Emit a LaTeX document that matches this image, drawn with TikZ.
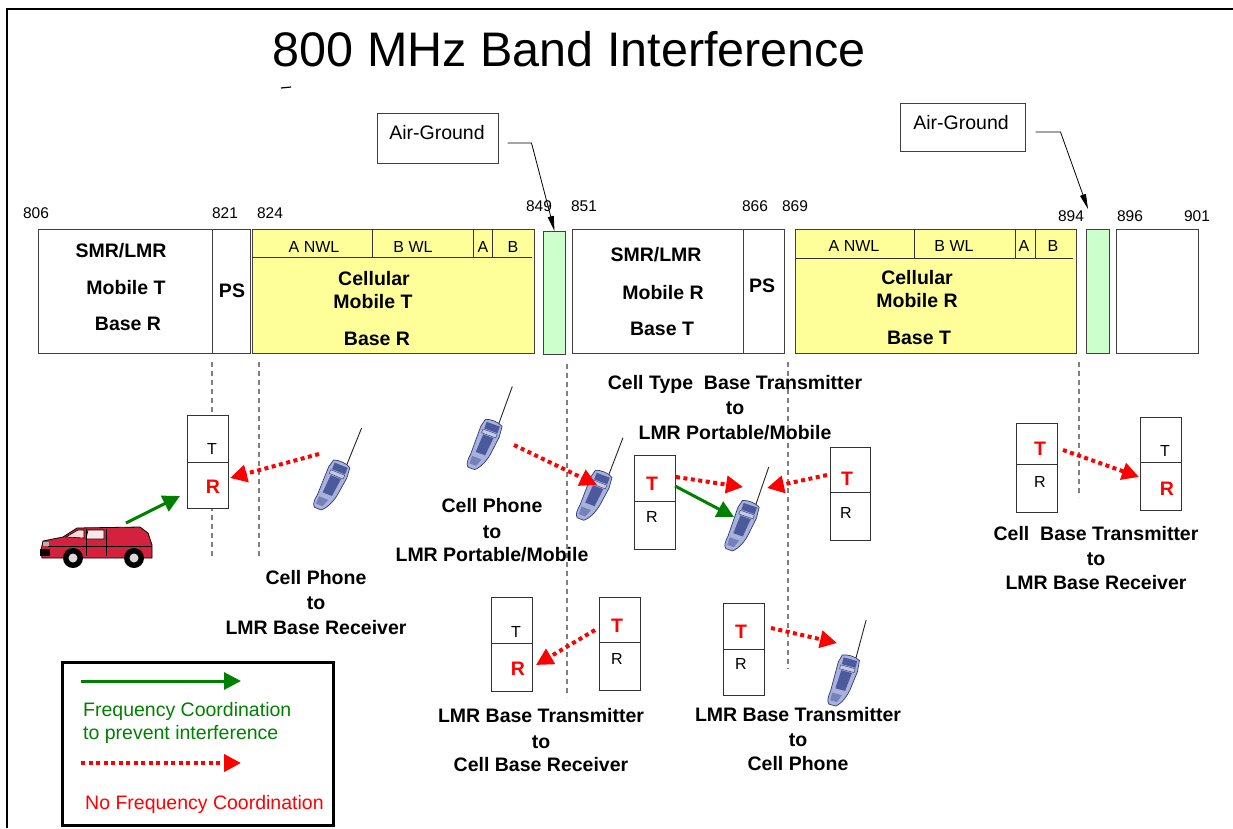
\documentclass[tikz,border=0pt]{standalone}
\usepackage{fontspec}
\setmainfont{Liberation Sans}
\usetikzlibrary{arrows.meta,calc}
\definecolor{bandyellow}{HTML}{FFFF99}
\definecolor{bandgreen}{HTML}{CCFFCC}
\definecolor{fcgreen}{HTML}{008000}
\definecolor{vanred}{HTML}{D4213D}
\definecolor{phonelight}{HTML}{A9B2DC}
\definecolor{phonedark}{HTML}{4B5A9C}
\definecolor{phoneline}{HTML}{2E3A70}
\tikzset{
  band/.style={draw=black!75, line width=1pt, inner sep=0, anchor=north west},
  cell/.style={draw=black!80, fill=white, line width=1pt, inner sep=0, minimum width=41pt, minimum height=46pt},
  agbox/.style={draw=black!75, line width=1pt, inner sep=0},
  tbig/.style={font=\bfseries\fontsize{19.5}{20}\selectfont, inner sep=0, text height=14pt, text depth=0pt},
  treg/.style={font=\fontsize{19.5}{20}\selectfont, inner sep=0, text height=14pt, text depth=0pt},
  tsub/.style={font=\fontsize{16}{16}\selectfont, inner sep=0, text height=11.5pt, text depth=0pt},
  tnum/.style={font=\fontsize{15.5}{16}\selectfont, inner sep=0, text height=11pt, text depth=0pt},
  tred/.style={font=\bfseries\fontsize{19.5}{20}\selectfont, text=red, inner sep=0, text height=14pt, text depth=0pt},
  tblk/.style={font=\fontsize{16}{16}\selectfont, inner sep=0, text height=11.5pt, text depth=0pt},
  guide/.style={draw=black!50, line width=1.5pt, dash pattern=on 5pt off 4pt},
  garrow/.style={draw=fcgreen, line width=3pt, -{Triangle[length=17pt,width=17pt]}, fcgreen},
  rarrow/.style={draw=red, line width=4pt, dash pattern=on 4pt off 3.5pt, -{Triangle[length=17pt,width=17pt]}, red},
  agarrow/.style={draw=black, line width=0.8pt, -{Triangle[length=15pt,width=6pt]}},
}
\newcommand{\myphone}[3]{%
  \begin{scope}[shift={(#1,#2)}, rotate=#3]
    \draw[line width=0.9pt, black!85] (6,1) -- (6,-40);
    \filldraw[fill=phonelight, draw=phoneline, line width=0.7pt]
      (-8,0) .. controls (-3,-2) and (5,-2) .. (10,1) -- (11,12) -- (9,28)
      .. controls (8,38) and (4,47) .. (-1,51) -- (-8,51)
      .. controls (-11,49) and (-11,44) .. (-10,38) -- (-10,8) -- cycle;
    \fill[phonedark] (-6,2) rectangle (8,9);
    \filldraw[fill=phonelight!70!white, draw=phoneline, line width=0.4pt] (-7,10) rectangle (8,14);
    \fill[phonedark] (-5,15) -- (6,15) -- (4,34) -- (-6,34) -- cycle;
    \fill[phonedark!55!phonelight] (-8,39) -- (2,39) -- (-1,47) -- (-8,47) -- cycle;
  \end{scope}}
\begin{document}
\begin{tikzpicture}[x=1pt,y=-1pt]
\useasboundingbox (0,0) rectangle (1233,828);
\fill[white] (0,0) rectangle (1233,828);
% frame
\draw[line width=2.5pt] (7,828) -- (7,9) -- (1233,9);
% title
\node[font=\fontsize{48.5}{50}\selectfont, inner sep=0, text height=34.7pt, text depth=0pt] (title) at (569.5,49) {800 MHz Band Interference};
\draw[line width=1.2pt] (281,88) -- (291,87);

% ---------- band plan ----------
\node[band, minimum width=212pt, minimum height=124pt] (b1) at (38,229) {};
\draw[black!75, line width=1pt] (212,229) -- (212,353);
\node[band, fill=bandyellow, minimum width=282pt, minimum height=124pt] (y1) at (252,229) {};
\draw[black!80, line width=1pt] (252,257) -- (532,257);
\foreach \xx in {372,473,492} \draw[black!80, line width=1pt] (\xx,229) -- (\xx,257);
\node[band, fill=bandgreen, minimum width=22pt, minimum height=123pt] (g1) at (543,231) {};
\node[band, minimum width=212pt, minimum height=124pt] (b2) at (572,229) {};
\draw[black!75, line width=1pt] (743,229) -- (743,353);
\node[band, fill=bandyellow, minimum width=281pt, minimum height=124pt] (y2) at (795,229) {};
\draw[black!80, line width=1pt] (795,258) -- (1073,258);
\foreach \xx in {914,1015,1035} \draw[black!80, line width=1pt] (\xx,229) -- (\xx,258);
\node[band, fill=bandgreen, minimum width=23pt, minimum height=124pt] (g2) at (1086,229) {};
\node[band, minimum width=82pt, minimum height=124pt] (b3) at (1116,229) {};

% frequency numbers
\node[tnum] (f806) at (36,213) {806};
\node[tnum] (f821) at (225,213) {821};
\node[tnum] (f824) at (270,213) {824};
\node[tnum] (f849) at (539,206) {849};
\node[tnum] (f851) at (584,206) {851};
\node[tnum] (f866) at (755,206) {866};
\node[tnum] (f869) at (795,206) {869};
\node[tnum] (f894) at (1071,216) {894};
\node[tnum] (f896) at (1130,216) {896};
\node[tnum] (f901) at (1197,216) {901};

% band labels
\node[tbig] (l1a) at (121,250) {SMR/LMR};
\node[tbig] (l1b) at (126,287) {Mobile T};
\node[tbig] (l1c) at (128,323) {Base R};
\node[tbig] (ps1) at (232,290) {PS};
\node[tsub] (s1a) at (314,247) {A NWL};
\node[tsub] (s1b) at (413,247) {B WL};
\node[tsub] (s1c) at (483,247) {A};
\node[tsub] (s1d) at (513,247) {B};
\node[tbig] (c1a) at (374,278) {Cellular};
\node[tbig] (c1b) at (373,301) {Mobile T};
\node[tbig] (c1c) at (377,338) {Base R};
\node[tbig] (l2a) at (656,254) {SMR/LMR};
\node[tbig] (l2b) at (663,292) {Mobile R};
\node[tbig] (l2c) at (662,328) {Base T};
\node[tbig] (ps2) at (762,285) {PS};
\node[tsub] (s2a) at (854,246) {A NWL};
\node[tsub] (s2b) at (954,246) {B WL};
\node[tsub] (s2c) at (1024,246) {A};
\node[tsub] (s2d) at (1053,246) {B};
\node[tbig] (c2a) at (917,277) {Cellular};
\node[tbig] (c2b) at (917,300) {Mobile R};
\node[tbig] (c2c) at (919,337) {Base T};

% air-ground callouts
\node[agbox, minimum width=121pt, minimum height=50pt] (ag1) at (437.5,138) {};
\node[treg] (ag1t) at (437,132) {Air-Ground};
\node[agbox, minimum width=125pt, minimum height=48pt] (ag2) at (962.5,127) {};
\node[treg] (ag2t) at (961,122) {Air-Ground};
\draw[agarrow] ([xshift=9pt,yshift=-5pt]ag1.east) -- ++(24,0) -- (g1.north);
\coordinate (ag2tip) at (1088,209);
\draw[agarrow] ([xshift=10pt,yshift=-5pt]ag2.east) -- ++(25,0) -- (ag2tip);

% ---------- guide lines ----------
\draw[guide] (212,362) -- (212,558);
\draw[guide] (259,362) -- (259,558);
\draw[guide] (567,364) -- (567,697);
\draw[guide] (788,362) -- (788,669);
\draw[guide] (1079,362) -- (1079,497);

% ---------- T/R boxes ----------
% box 1
\node[cell, minimum height=47pt] (b1t) at (207.5,438.5) {};
\node[cell] (b1r) at (207.5,485) {};
\node[tblk] (b1tt) at (212,449) {T};
\node[tred] (b1rt) at (213,486) {R};
% box 2
\node[cell] (b2t) at (654.5,478) {};
\node[cell, minimum height=48pt] (b2r) at (654.5,525) {};
\node[tred] (b2tt) at (652,483) {T};
\node[tblk] (b2rt) at (652,517) {R};
% box 3
\node[cell, minimum width=40pt, minimum height=45pt] (b3t) at (850,469.5) {};
\node[cell, minimum width=40pt, minimum height=48pt] (b3r) at (850,516) {};
\node[tred] (b3tt) at (847,478) {T};
\node[tblk] (b3rt) at (846,513) {R};
% box 4
\node[cell] (b4t) at (511.5,620) {};
\node[cell, minimum height=48pt] (b4r) at (511.5,667) {};
\node[tblk] (b4tt) at (516,632) {T};
\node[tred] (b4rt) at (518,668) {R};
% box 5
\node[cell, minimum height=45pt] (b5t) at (619.5,619.5) {};
\node[cell, minimum height=48pt] (b5r) at (619.5,666) {};
\node[tred] (b5tt) at (617,625) {T};
\node[tblk] (b5rt) at (617,659) {R};
% box 6
\node[cell] (b6t) at (743.5,626) {};
\node[cell] (b6r) at (743.5,672) {};
\node[tred] (b6tt) at (741,631) {T};
\node[tblk] (b6rt) at (741,664) {R};
% box 7
\node[cell, minimum height=41pt] (b7t) at (1036.5,443.5) {};
\node[cell, minimum height=48pt] (b7r) at (1036.5,488) {};
\node[tred] (b7tt) at (1040,448) {T};
\node[tblk] (b7rt) at (1040,482) {R};
% box 8
\node[cell, minimum height=45pt] (b8t) at (1160.5,439.5) {};
\node[cell, minimum height=48pt] (b8r) at (1160.5,486) {};
\node[tblk] (b8tt) at (1165,451) {T};
\node[tred] (b8rt) at (1167,488) {R};

% ---------- phones ----------
\myphone{341}{463}{-22}
\myphone{493}{422}{-20}
\myphone{603}{473}{-21}
\myphone{750}{503}{-19}
\myphone{850}{657}{-15}

% ---------- van ----------
\begin{scope}
  \filldraw[fill=vanred, draw=black, line width=0.8pt]
    (41,550) -- (43,541) -- (63,537) -- (77,528) -- (140,527) -- (148,533)
    -- (152,545) -- (152,558) -- (42,558) -- cycle;
  \filldraw[fill=red!15, draw=black, line width=0.6pt] (66,537) -- (78,530) -- (84,530) -- (84,538) -- cycle;
  \filldraw[fill=red!10, draw=black, line width=0.6pt] (88,530) -- (104,530) -- (104,539) -- (86,539) -- cycle;
  \draw[black, line width=0.6pt] (86,529) -- (86,556);
  \draw[black, line width=0.6pt] (106,529) -- (106,556);
  \draw[black, line width=0.6pt] (48,546) -- (152,546);
  \fill[black] (40,549) rectangle (50,556);
  \fill[black!30] (43,542) rectangle (49,546);
  \fill[black] (73,558) circle (10);
  \fill[black!15] (73,558) circle (4.5);
  \fill[black] (134,558) circle (10);
  \fill[black!15] (134,558) circle (4.5);
\end{scope}

% ---------- arrows ----------
\coordinate (vanf) at (126,523);
\coordinate (g1tip) at (180,496);
\draw[garrow] (vanf) -- (g1tip);
\coordinate (g2s) at (675,486);
\coordinate (g2tip) at (734,517);
\draw[garrow] (g2s) -- (g2tip);

\coordinate (r1s) at (319,454);  \coordinate (r1e) at (230,478);
\coordinate (r2s) at (514,445);  \coordinate (r2e) at (597,485);
\coordinate (r3s) at (676,477);  \coordinate (r3e) at (743,487);
\coordinate (r4s) at (827,475);  \coordinate (r4e) at (767,488);
\coordinate (r5s) at (595,630);  \coordinate (r5e) at (536,665);
\coordinate (r6s) at (771,628);  \coordinate (r6e) at (837,643);
\coordinate (r7s) at (1063,450); \coordinate (r7e) at (1139,477);
\draw[rarrow] (r1s) -- (r1e);
\draw[rarrow] (r2s) -- (r2e);
\draw[rarrow] (r3s) -- (r3e);
\draw[rarrow] (r4s) -- (r4e);
\draw[rarrow] (r5s) -- (r5e);
\draw[rarrow] (r6s) -- (r6e);
\draw[rarrow] (r7s) -- (r7e);

% ---------- captions ----------
\node[tbig] (k1a) at (316,577) {Cell Phone};
\node[tbig] (k1b) at (316,602) {to};
\node[tbig] (k1c) at (316,627) {LMR Base Receiver};
\node[tbig] (k2a) at (492,505) {Cell Phone};
\node[tbig] (k2b) at (492,531) {to};
\node[tbig] (k2c) at (492,554) {LMR Portable/Mobile};
\node[tbig] (k3a) at (735,382) {Cell Type\ \ Base Transmitter};
\node[tbig] (k3b) at (735,407) {to};
\node[tbig] (k3c) at (735,432) {LMR Portable/Mobile};
\node[tbig] (k4a) at (541,715) {LMR Base Transmitter};
\node[tbig] (k4b) at (541,741) {to};
\node[tbig] (k4c) at (541,764) {Cell Base Receiver};
\node[tbig] (k5a) at (798,714) {LMR Base Transmitter};
\node[tbig] (k5b) at (798,739) {to};
\node[tbig] (k5c) at (798,763) {Cell Phone};
\node[tbig] (k6a) at (1096,533) {Cell\ \ Base Transmitter};
\node[tbig] (k6b) at (1096,558) {to};
\node[tbig] (k6c) at (1096,582) {LMR Base Receiver};

% ---------- legend ----------
\node[draw=black, line width=3pt, inner sep=0, minimum width=271pt, minimum height=163pt] (legend) at (197.5,743.5) {};
\coordinate (lg1s) at (81,681); \coordinate (lg1e) at (241,681);
\draw[garrow] (lg1s) -- (lg1e);
\node[treg, text=fcgreen, anchor=west] (lgt1) at (83,709) {Frequency Coordination};
\node[treg, text=fcgreen, anchor=west] (lgt2) at (83,732) {to prevent interference};
\coordinate (lg2s) at (81,763); \coordinate (lg2e) at (241,763);
\draw[rarrow] (lg2s) -- (lg2e);
\node[treg, text=red, anchor=west] (lgt3) at (85,802) {No Frequency Coordination};
\end{tikzpicture}
\end{document}
